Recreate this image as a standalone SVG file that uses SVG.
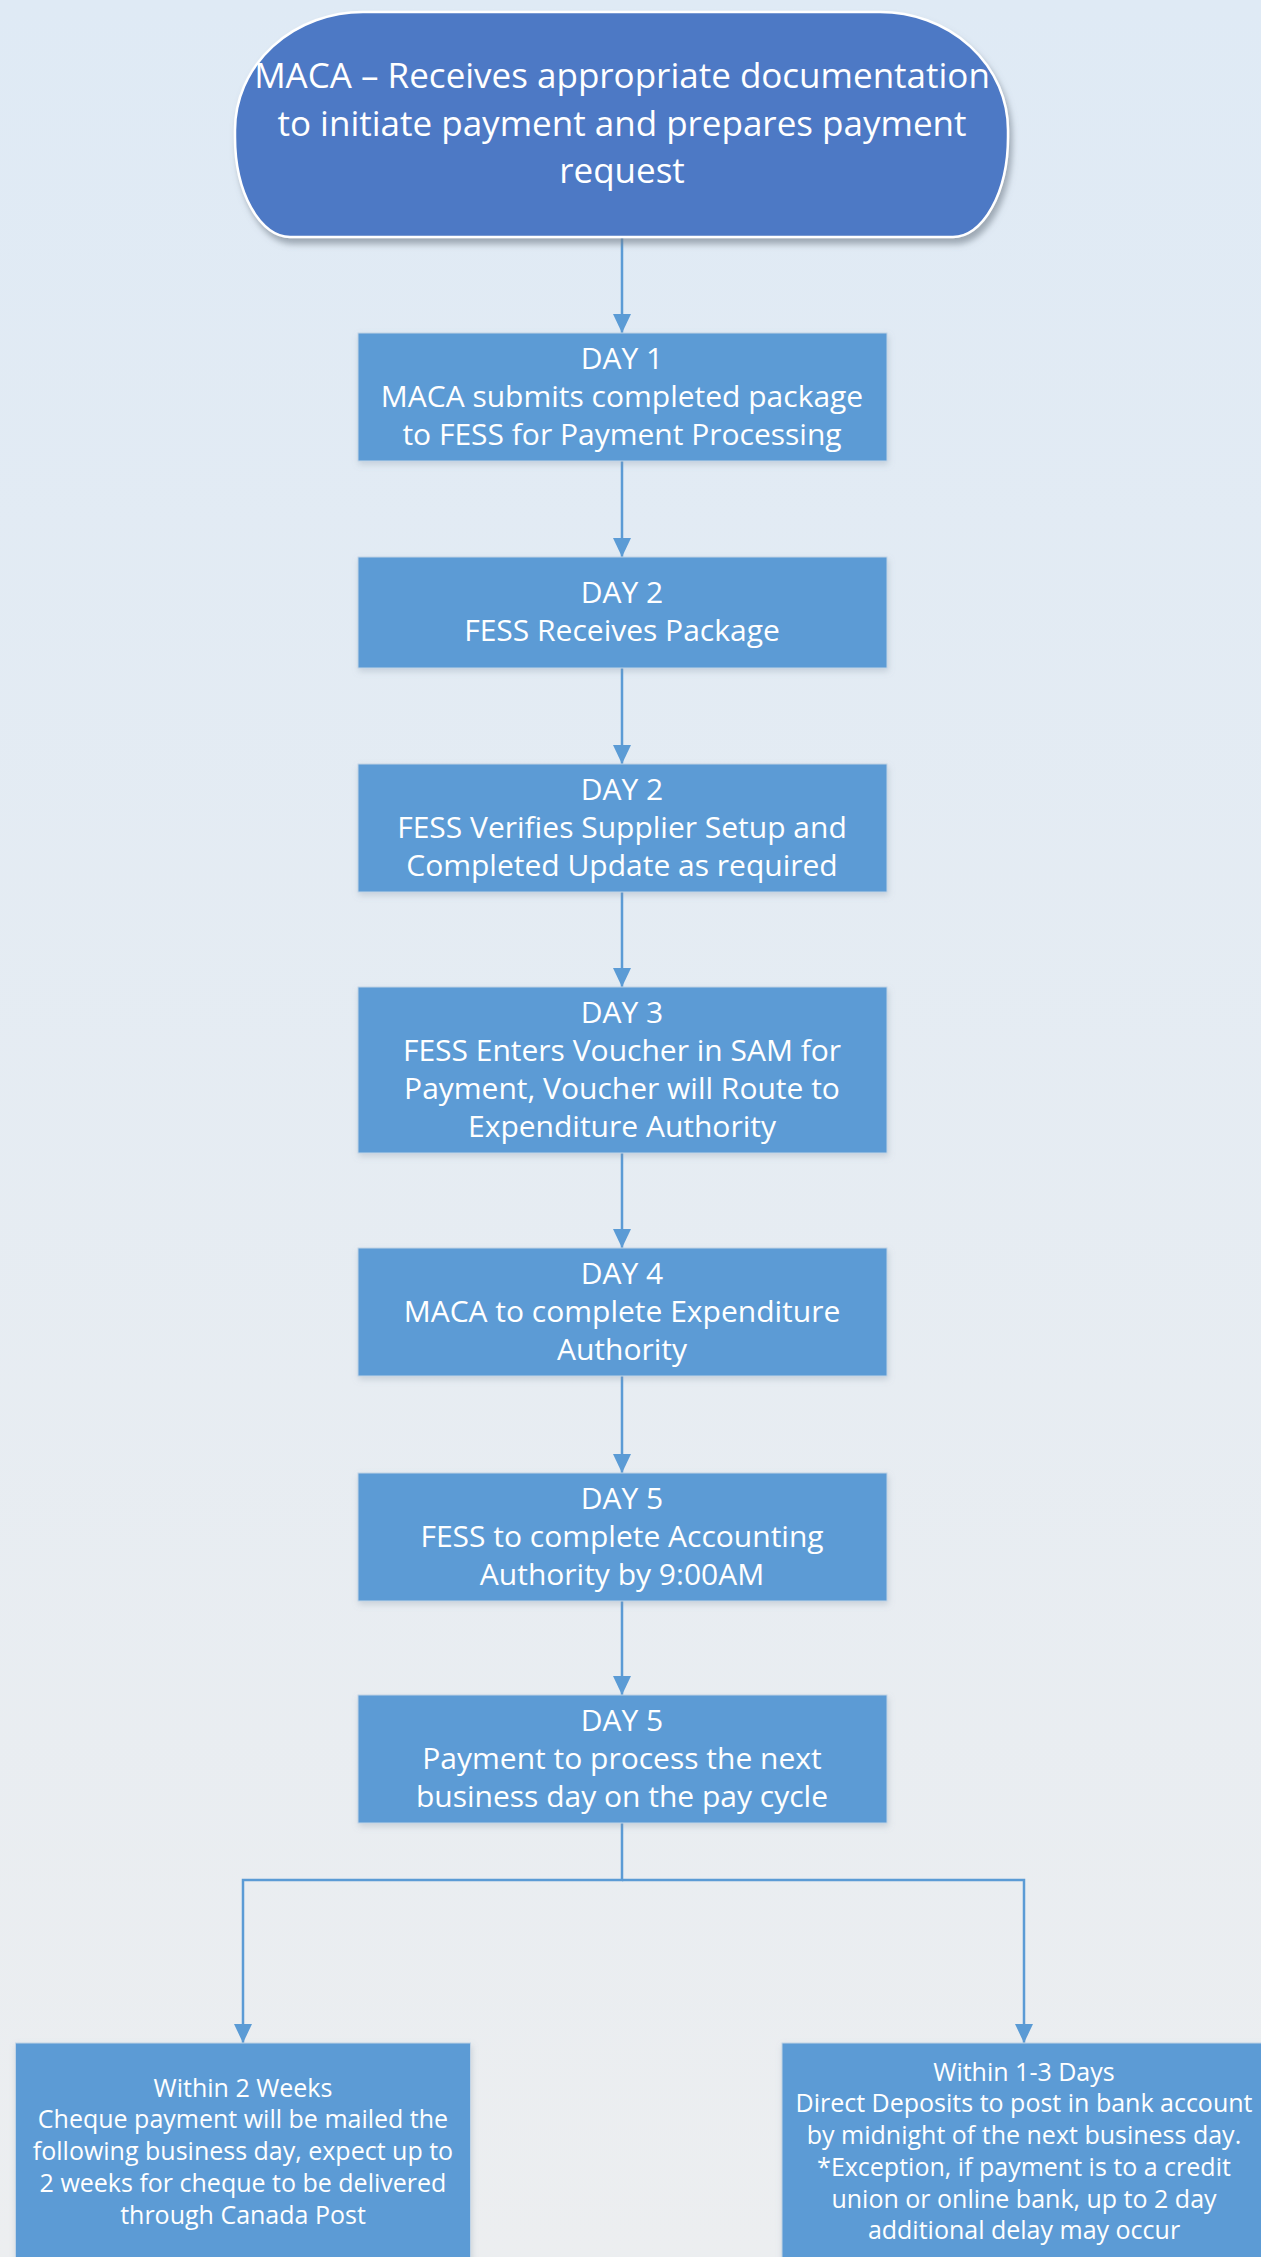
<svg xmlns="http://www.w3.org/2000/svg" width="1261" height="2257" viewBox="0 0 1261 2257">
<defs>
<linearGradient id="bg" x1="0" y1="0" x2="0" y2="1">
<stop offset="0" stop-color="#dfeaf5"/>
<stop offset="1" stop-color="#eceef0"/>
</linearGradient>
<filter id="shTop" x="-10%" y="-10%" width="125%" height="130%">
<feDropShadow dx="3" dy="6" stdDeviation="3" flood-color="#6f7c88" flood-opacity="0.6"/>
</filter>
<filter id="shBox" x="-5%" y="-10%" width="110%" height="130%">
<feDropShadow dx="1" dy="3" stdDeviation="3" flood-color="#7f8fa0" flood-opacity="0.3"/>
</filter>
<marker id="arr" markerUnits="userSpaceOnUse" markerWidth="19" markerHeight="18" refX="19" refY="9" orient="auto" viewBox="0 0 19 18">
<path d="M0,0 L19,9 L0,18 Z" fill="#5b9bd5"/>
</marker>
<style>
.box{fill:#5b9bd5;stroke:#c2d4e6;stroke-width:1;filter:url(#shBox);}
.t{font-family:"Open Sans","Noto Sans","DejaVu Sans",sans-serif;fill:#ffffff;text-anchor:middle;font-size:30px;}
.tt{font-size:35px;}
.ts{font-size:25px;}
.c{fill:none;stroke:#5b9bd5;stroke-width:2.5;}
</style>
</defs>
<rect x="0" y="0" width="1261" height="2257" fill="url(#bg)"/>

<g id="connectors">
<path class="c" d="M622,237 L622,333" marker-end="url(#arr)"/>
<path class="c" d="M622,461 L622,557" marker-end="url(#arr)"/>
<path class="c" d="M622,668 L622,764" marker-end="url(#arr)"/>
<path class="c" d="M622,892 L622,987" marker-end="url(#arr)"/>
<path class="c" d="M622,1153 L622,1248" marker-end="url(#arr)"/>
<path class="c" d="M622,1376 L622,1473" marker-end="url(#arr)"/>
<path class="c" d="M622,1601 L622,1695" marker-end="url(#arr)"/>
<path class="c" d="M622,1823 L622,1880 L243,1880 L243,2043" marker-end="url(#arr)"/>
<path class="c" d="M622,1880 L1024,1880 L1024,2043" marker-end="url(#arr)"/>
</g>

<g id="start">
<path d="M363,12 L880,12 A128 118 0 0 1 1008,130 L1008,137 A55 100 0 0 1 953,237 L290,237 A55 100 0 0 1 235,137 L235,130 A128 118 0 0 1 363,12 Z" fill="#4e79c5" stroke="#ffffff" stroke-width="2.5" filter="url(#shTop)"/>
<text class="t tt" x="622" y="88">MACA – Receives appropriate documentation</text>
<text class="t tt" x="622" y="136">to initiate payment and prepares payment</text>
<text class="t tt" x="622" y="183">request</text>
</g>

<g id="day1">
<rect class="box" x="358" y="333" width="529" height="128"/>
<text class="t" x="622" y="368.5">DAY 1</text>
<text class="t" x="622" y="406.5">MACA submits completed package</text>
<text class="t" x="622" y="444.5">to FESS for Payment Processing</text>
</g>

<g id="day2a">
<rect class="box" x="358" y="557" width="529" height="111"/>
<text class="t" x="622" y="603">DAY 2</text>
<text class="t" x="622" y="641">FESS Receives Package</text>
</g>

<g id="day2b">
<rect class="box" x="358" y="764" width="529" height="128"/>
<text class="t" x="622" y="799.5">DAY 2</text>
<text class="t" x="622" y="837.5">FESS Verifies Supplier Setup and</text>
<text class="t" x="622" y="875.5">Completed Update as required</text>
</g>

<g id="day3">
<rect class="box" x="358" y="987" width="529" height="166"/>
<text class="t" x="622" y="1022.5">DAY 3</text>
<text class="t" x="622" y="1060.5">FESS Enters Voucher in SAM for</text>
<text class="t" x="622" y="1098.5">Payment, Voucher will Route to</text>
<text class="t" x="622" y="1136.5">Expenditure Authority</text>
</g>

<g id="day4">
<rect class="box" x="358" y="1248" width="529" height="128"/>
<text class="t" x="622" y="1283.5">DAY 4</text>
<text class="t" x="622" y="1321.5">MACA to complete Expenditure</text>
<text class="t" x="622" y="1359.5">Authority</text>
</g>

<g id="day5a">
<rect class="box" x="358" y="1473" width="529" height="128"/>
<text class="t" x="622" y="1508.5">DAY 5</text>
<text class="t" x="622" y="1546.5">FESS to complete Accounting</text>
<text class="t" x="622" y="1584.5">Authority by 9:00AM</text>
</g>

<g id="day5b">
<rect class="box" x="358" y="1695" width="529" height="128"/>
<text class="t" x="622" y="1730.5">DAY 5</text>
<text class="t" x="622" y="1768.5">Payment to process the next</text>
<text class="t" x="622" y="1806.5">business day on the pay cycle</text>
</g>

<g id="cheque">
<rect class="box" x="15.5" y="2043" width="455" height="220"/>
<text class="t ts" x="243" y="2096.5">Within 2 Weeks</text>
<text class="t ts" x="243" y="2128.3">Cheque payment will be mailed the</text>
<text class="t ts" x="243" y="2160">following business day, expect up to</text>
<text class="t ts" x="243" y="2191.8">2 weeks for cheque to be delivered</text>
<text class="t ts" x="243" y="2223.5">through Canada Post</text>
</g>

<g id="deposit">
<rect class="box" x="782" y="2043" width="484" height="220"/>
<text class="t ts" x="1024" y="2080.5">Within 1-3 Days</text>
<text class="t ts" x="1024" y="2112.3">Direct Deposits to post in bank account</text>
<text class="t ts" x="1024" y="2144">by midnight of the next business day.</text>
<text class="t ts" x="1024" y="2175.8">*Exception, if payment is to a credit</text>
<text class="t ts" x="1024" y="2207.6">union or online bank, up to 2 day</text>
<text class="t ts" x="1024" y="2239.4">additional delay may occur</text>
</g>
</svg>
